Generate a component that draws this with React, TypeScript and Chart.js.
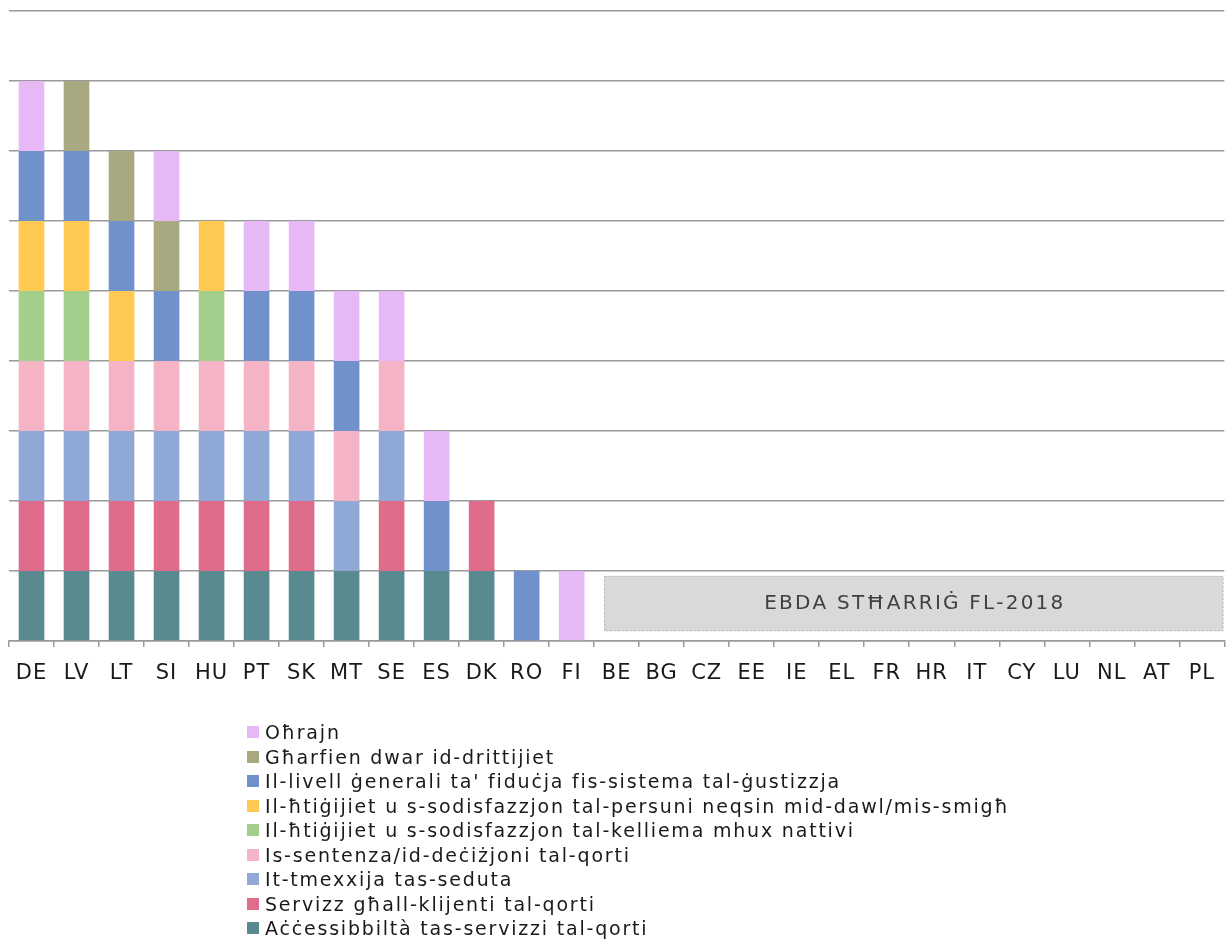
import React, { useEffect, useRef } from "react";
import { Chart, registerables } from "chart.js";
Chart.register(...registerables);

const categories = ["DE","LV","LT","SI","HU","PT","SK","MT","SE","ES","DK","RO","FI","BE","BG","CZ","EE","IE","EL","FR","HR","IT","CY","LU","NL","AT","PL"];

const accessibbilta = [1,1,1,1,1,1,1,1,1,1,1,0,0,0,0,0,0,0,0,0,0,0,0,0,0,0,0];
const servizz       = [1,1,1,1,1,1,1,0,1,0,1,0,0,0,0,0,0,0,0,0,0,0,0,0,0,0,0];
const tmexxija      = [1,1,1,1,1,1,1,1,1,0,0,0,0,0,0,0,0,0,0,0,0,0,0,0,0,0,0];
const sentenza      = [1,1,1,1,1,1,1,1,1,0,0,0,0,0,0,0,0,0,0,0,0,0,0,0,0,0,0];
const kelliema      = [1,1,0,0,1,0,0,0,0,0,0,0,0,0,0,0,0,0,0,0,0,0,0,0,0,0,0];
const persuni       = [1,1,1,0,1,0,0,0,0,0,0,0,0,0,0,0,0,0,0,0,0,0,0,0,0,0,0];
const livell        = [1,1,1,1,0,1,1,1,0,1,0,1,0,0,0,0,0,0,0,0,0,0,0,0,0,0,0];
const gharfien      = [0,1,1,1,0,0,0,0,0,0,0,0,0,0,0,0,0,0,0,0,0,0,0,0,0,0,0];
const ohrajn        = [1,0,0,1,0,1,1,1,1,1,0,0,1,0,0,0,0,0,0,0,0,0,0,0,0,0,0];

const seriesNames = [
  "Aċċessibbiltà tas-servizzi tal-qorti",
  "Servizz għall-klijenti tal-qorti",
  "It-tmexxija tas-seduta",
  "Is-sentenza/id-deċiżjoni tal-qorti",
  "Il-ħtiġijiet u s-sodisfazzjon tal-kelliema mhux nattivi",
  "Il-ħtiġijiet u s-sodisfazzjon tal-persuni neqsin mid-dawl/mis-smigħ",
  "Il-livell ġenerali ta' fiduċja fis-sistema tal-ġustizzja",
  "Għarfien dwar id-drittijiet",
  "Oħrajn",
];
const seriesValues = [accessibbilta, servizz, tmexxija, sentenza, kelliema, persuni, livell, gharfien, ohrajn];
const seriesColors = ["#588a8f","#e06c8c","#8fa8d6","#f5b4c5","#a3cf8c","#ffc952","#7191cb","#a9a981","#e6b9f6"];

const noteText = "EBDA STĦARRIĠ FL-2018";
const noteFrom = "BE";
const noteTo = "PL";

const FONT = "'DejaVu Sans', sans-serif";

export default function App() {
  const ref = useRef<HTMLCanvasElement>(null);
  useEffect(() => {
    const H = 700;
    const spacingPlugin = {
      id: "spacing",
      beforeDraw(chart: any) {
        (chart.ctx as any).letterSpacing = "1px";
      },
    };
    const notePlugin = {
      id: "note",
      beforeDatasetsDraw(chart: any) {
        const x = chart.scales.x;
        const y = chart.scales.y;
        const ctx = chart.ctx;
        const w = x.getPixelForValue(1) - x.getPixelForValue(0);
        const left = x.getPixelForValue(categories.indexOf(noteFrom)) - 0.28 * w;
        const right = x.getPixelForValue(categories.indexOf(noteTo)) + 0.48 * w;
        const top = y.getPixelForValue(0.93);
        const bottom = y.getPixelForValue(0.14);
        ctx.save();
        (ctx as any).letterSpacing = "0px";
        ctx.fillStyle = "#d9d9d9";
        ctx.fillRect(left, top, right - left, bottom - top);
        ctx.strokeStyle = "#b8b8b8";
        ctx.lineWidth = 1;
        ctx.setLineDash([2, 2]);
        ctx.strokeRect(left + 0.5, top + 0.5, right - left - 1, bottom - top - 1);
        ctx.setLineDash([]);
        ctx.fillStyle = "#404040";
        ctx.font = `20px ${FONT}`;
        ctx.textAlign = "left";
        ctx.textBaseline = "middle";
        const sp = 2.2;
        const chars = Array.from(noteText);
        const widths = chars.map((c) => ctx.measureText(c).width);
        const total = widths.reduce((a, b) => a + b, 0) + sp * (chars.length - 1);
        let cx = (left + right) / 2 - total / 2;
        const cy = (top + bottom) / 2;
        chars.forEach((c, i) => {
          ctx.fillText(c, cx, cy);
          cx += widths[i] + sp;
        });
        ctx.restore();
      },
    };
    const chart = new Chart(ref.current!, {
      type: "bar",
      data: {
        labels: categories,
        datasets: seriesNames.map((n, i) => ({
          label: n,
          data: seriesValues[i],
          backgroundColor: seriesColors[i],
          borderWidth: 0,
          barPercentage: 0.57,
          categoryPercentage: 1,
        })),
      },
      options: {
        animation: false,
        responsive: true,
        maintainAspectRatio: false,
        layout: { padding: { left: 9, right: 0, top: 11, bottom: 0 } },
        plugins: { legend: { display: false }, tooltip: { enabled: false } },
        scales: {
          x: {
            stacked: true,
            grid: { display: true, drawOnChartArea: false, drawTicks: true, tickLength: 6, color: "#9a9a9a", lineWidth: 1.5, offset: true },
            border: { display: true, color: "#9a9a9a", width: 1.5 },
            ticks: { color: "#1a1a1a", font: { family: FONT, size: 21 }, padding: 14, maxRotation: 0, autoSkip: false },
            afterFit: (s: any) => { s.height = H - 641; },
          },
          y: {
            stacked: true,
            min: 0,
            max: 9,
            ticks: { display: false, stepSize: 1 },
            grid: { color: "#9a9a9a", lineWidth: 1.5, drawTicks: false },
            border: { display: false },
            afterFit: (s: any) => { s.width = 0; },
          },
        },
      },
      plugins: [spacingPlugin, notePlugin],
    });
    return () => chart.destroy();
  }, []);

  const legendOrder = seriesNames.map((n, i) => i).reverse();
  return (
    <div style={{ position: "fixed", left: 0, top: 0, width: 1228, height: 940, background: "#fff", fontFamily: FONT }}>
      <div style={{ position: "absolute", left: 0, top: 0, width: 1228, height: 700 }}>
        <canvas ref={ref} />
      </div>
      <div style={{ position: "absolute", left: 247, top: 720 }}>
        {legendOrder.map((i) => (
          <div key={i} style={{ display: "flex", alignItems: "center", height: 24.5, whiteSpace: "nowrap" }}>
            <span style={{ display: "inline-block", width: 12, height: 12, background: seriesColors[i], marginRight: 6 }} />
            <span style={{ fontSize: 19, letterSpacing: 1.8, color: "#1a1a1a" }}>{seriesNames[i]}</span>
          </div>
        ))}
      </div>
    </div>
  );
}
